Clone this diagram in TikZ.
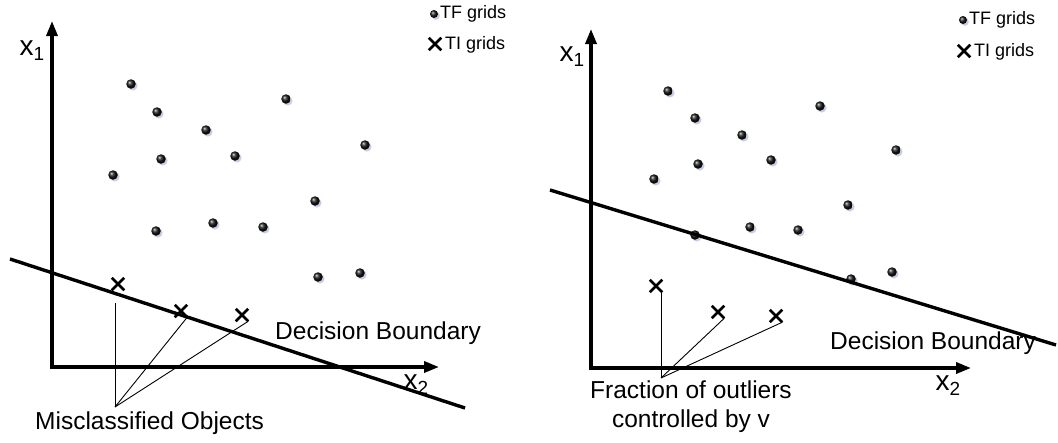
\documentclass[tikz,border=0pt]{standalone}
\usepackage{fontspec}
\setmainfont{Liberation Sans}
\usetikzlibrary{shapes.misc,arrows.meta,shadows}
\definecolor{shadowc}{RGB}{200,205,225}
\begin{document}
\begin{tikzpicture}[x=1pt,y=-1pt,
  axis/.style={line width=3.4pt,-{Triangle[length=15pt,width=11pt]}},
  bound/.style={line width=3.4pt},
  lead/.style={line width=0.9pt},
  tf/.style={circle,inner sep=0pt,minimum size=9.5pt,draw=none,shading=ball,ball color=black!92,
    drop shadow={shadow xshift=1.8pt,shadow yshift=-1.8pt,fill=shadowc,opacity=1}},
  tfleg/.style={tf,minimum size=8pt},
  ti/.style={cross out,draw,line width=2.5pt,minimum size=10pt,inner sep=0pt},
  lbl/.style={font=\fontsize{24.5}{29}\selectfont,inner sep=0pt},
  leg/.style={font=\fontsize{18}{20}\selectfont,inner sep=0pt,anchor=west},
  axl/.style={font=\fontsize{28}{30}\selectfont,inner sep=0pt}]
\useasboundingbox (0,0) rectangle (1058,442);

% ================= LEFT PANEL =================
\coordinate (LO) at (52,367);
\coordinate (LY) at (52,21);
\coordinate (LX) at (439,367);
\draw[axis] (LO) -- (LY);
\draw[axis] ([xshift=-1.7pt]LO) -- (LX);
\node[axl] (lx1) at (32,51) {x\raisebox{-5pt}{\fontsize{19}{19}\selectfont 1}};
\node[axl] (lx2) at (416,385) {x\raisebox{-5pt}{\fontsize{19}{19}\selectfont 2}};

\foreach \n/\x/\y in {a/131/84,b/157/112,c/206/130,d/286/99,e/365/145,f/161/159,g/235/156,
  h/113/175,i/315/201,j/156/231,k/213/223,l/263/227,m/318/277,n/360/273}
  \node[tf] (L\n) at (\x,\y) {};

\coordinate (LB1) at (10,259);
\coordinate (LB2) at (465,408);
\draw[bound] (LB1) -- (LB2);

\node[ti] (lm1) at (118,284) {};
\node[ti] (lm2) at (181,311) {};
\node[ti] (lm3) at (242,315) {};
\coordinate (lc) at (115,407);
\coordinate (lm1e) at (115,303);
\draw[lead] (lc) -- (lm1e);
\draw[lead] (lc) -- (lm2.south east);
\draw[lead] (lc) -- (lm3.south east);

\node[lbl,anchor=west] (ldb) at (275,333) {Decision Boundary};
\node[lbl,anchor=west] (lmo) at (35,423) {Misclassified Objects};

\node[tfleg] (llegd) at (434,14) {};
\node[leg] (llegt) at (440,14) {TF grids};
\node[ti] (llegx) at (435,44) {};
\node[leg] (llegu) at (445,45) {TI grids};

% ================= RIGHT PANEL =================
\coordinate (RO) at (591,368);
\coordinate (RY) at (591,29);
\coordinate (RX) at (971,368);
\draw[axis] (RO) -- (RY);
\draw[axis] ([xshift=-1.7pt]RO) -- (RX);
\node[axl] (rx1) at (572,57) {x\raisebox{-5pt}{\fontsize{19}{19}\selectfont 1}};
\node[axl] (rx2) at (948,386) {x\raisebox{-5pt}{\fontsize{19}{19}\selectfont 2}};

\foreach \n/\x/\y in {a/668/91,b/695/118,c/742/135,d/820/106,e/896/150,f/698/164,g/771/160,
  h/654/179,i/848/205,j/750/227,k/798/230,l/892/272,m/695/235,n/851/279}
  \node[tf] (R\n) at (\x,\y) {};

\coordinate (RB1) at (550,190);
\coordinate (RB2) at (1056,345);
\draw[bound] (RB1) -- (RB2);

\node[ti] (rm1) at (656,286) {};
\node[ti] (rm2) at (718,312) {};
\node[ti] (rm3) at (776,316) {};
\coordinate (rc) at (661,378);
\coordinate (rm1e) at (661,291);
\draw[lead] (rc) -- (rm1e);
\draw[lead] (rc) -- (rm2.south east);
\draw[lead] (rc) -- (rm3.south east);

\node[lbl,anchor=west] (rdb) at (830,343) {Decision Boundary};
\node[lbl,align=center,anchor=north] (rfo) at (691,381) {Fraction of outliers\\controlled by v};

\node[tfleg] (rlegd) at (963,20) {};
\node[leg] (rlegt) at (969,20) {TF grids};
\node[ti] (rlegx) at (964,51) {};
\node[leg] (rlegu) at (974,52) {TI grids};
\end{tikzpicture}
\end{document}
